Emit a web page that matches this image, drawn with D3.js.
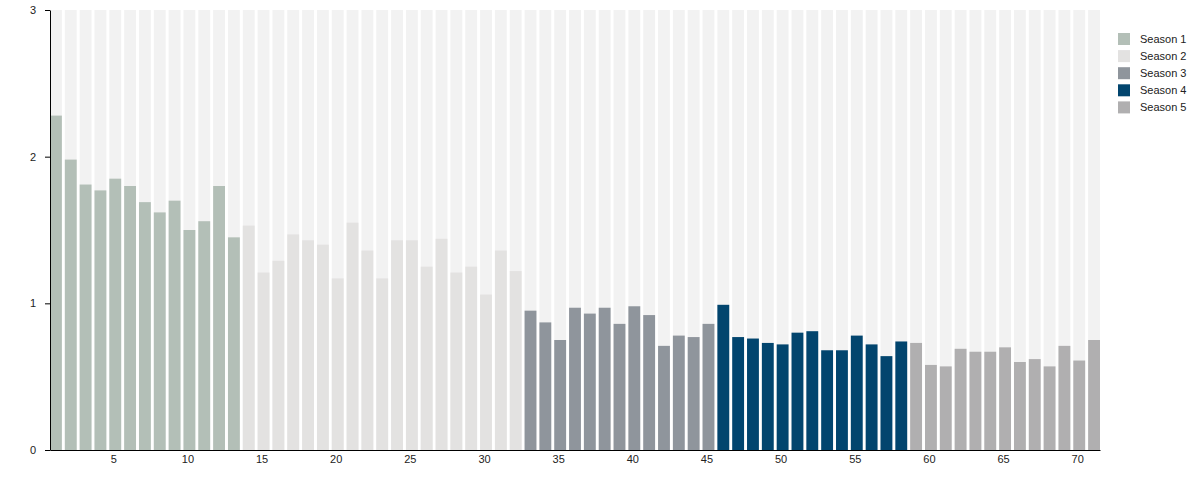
<!DOCTYPE html>
<html>
<head>
<meta charset="utf-8">
<script src="https://cdn.jsdelivr.net/npm/d3@7"></script>
<style>
  html, body { margin: 0; padding: 0; background: #fff; }
  svg { display: block; font-family: "Liberation Sans", Arial, sans-serif; }
</style>
</head>
<body>
<svg id="chart" width="1200" height="500"></svg>
<script>
// ---- data ----
const seasons = ["Season 1", "Season 2", "Season 3", "Season 4", "Season 5"];
const seasonColors = ["#b3bfb7", "#e3e2e1", "#8f959c", "#02456e", "#b0afb0"];
const season1 = [2.28, 1.98, 1.81, 1.77, 1.85, 1.80, 1.69, 1.62, 1.70, 1.50, 1.56, 1.80, 1.45];
const season2 = [1.53, 1.21, 1.29, 1.47, 1.43, 1.40, 1.17, 1.55, 1.36, 1.17, 1.43, 1.43, 1.25, 1.44, 1.21, 1.25, 1.06, 1.36, 1.22];
const season3 = [0.95, 0.87, 0.75, 0.97, 0.93, 0.97, 0.86, 0.98, 0.92, 0.71, 0.78, 0.77, 0.86];
const season4 = [0.99, 0.77, 0.76, 0.73, 0.72, 0.80, 0.81, 0.68, 0.68, 0.78, 0.72, 0.64, 0.74];
const season5 = [0.73, 0.58, 0.57, 0.69, 0.67, 0.67, 0.70, 0.60, 0.62, 0.57, 0.71, 0.61, 0.75];
const yTicks = [0, 1, 2, 3];
const xTicks = [5, 10, 15, 20, 25, 30, 35, 40, 45, 50, 55, 60, 65, 70];
const yMax = 3;

(function () {
  const seasonData = [season1, season2, season3, season4, season5];
  const episodes = [];
  let ep = 1;
  seasonData.forEach((vals, si) => {
    vals.forEach(v => { episodes.push({ episode: ep++, season: si, value: v }); });
  });

  const svg = d3.select("#chart");
  const mLeft = 50, mRight = 1100, mTop = 10, mBottom = 450;

  const x = d3.scaleBand()
    .domain(episodes.map(d => d.episode))
    .range([mLeft, mRight])
    .paddingInner(0.2)
    .paddingOuter(0);

  const y = d3.scaleLinear().domain([0, yMax]).range([mBottom, mTop]);

  // background bars
  svg.append("g").selectAll("rect")
    .data(episodes)
    .join("rect")
    .attr("x", d => x(d.episode))
    .attr("width", x.bandwidth())
    .attr("y", y(yMax))
    .attr("height", y(0) - y(yMax))
    .attr("fill", "#f2f2f2");

  // value bars
  svg.append("g").selectAll("rect")
    .data(episodes)
    .join("rect")
    .attr("x", d => x(d.episode))
    .attr("width", x.bandwidth())
    .attr("y", d => y(d.value))
    .attr("height", d => y(0) - y(d.value))
    .attr("fill", d => seasonColors[d.season]);

  // axes
  const xAxis = svg.append("g")
    .attr("transform", `translate(0,${mBottom})`)
    .call(d3.axisBottom(x).tickValues(xTicks).tickSizeInner(0).tickSizeOuter(0).tickPadding(5));
  xAxis.selectAll("text").attr("font-size", 11).attr("fill", "#222").attr("dx", -1.5)
    .attr("font-family", "Liberation Sans, Arial, sans-serif");
  xAxis.select(".domain").attr("stroke", "#000");

  const yAxis = svg.append("g")
    .attr("transform", `translate(${mLeft},0)`)
    .call(d3.axisLeft(y).tickValues(yTicks).tickFormat(d3.format("d")).tickSizeInner(5).tickSizeOuter(0).tickPadding(9));
  yAxis.selectAll("text").attr("font-size", 11).attr("fill", "#222").attr("font-family", "Liberation Sans, Arial, sans-serif");
  yAxis.select(".domain").attr("stroke", "#000");

  // legend
  const legend = svg.append("g").attr("transform", "translate(1118,33)");
  const item = legend.selectAll("g")
    .data(seasons)
    .join("g")
    .attr("transform", (d, i) => `translate(0,${i * 17.1})`);
  item.append("rect")
    .attr("width", 12).attr("height", 12)
    .attr("fill", (d, i) => seasonColors[i]);
  item.append("text")
    .attr("x", 22).attr("y", 6).attr("dy", "0.35em")
    .attr("font-size", 11).attr("fill", "#222")
    .text(d => d);
})();
</script>
</body>
</html>
